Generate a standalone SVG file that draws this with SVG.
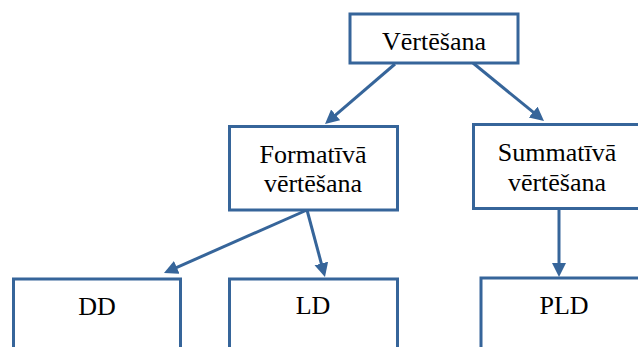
<svg xmlns="http://www.w3.org/2000/svg" width="638" height="347" viewBox="0 0 638 347">
<style>
.box{fill:#fff;stroke:#36659a;stroke-width:3}
.lbl{font-size:26px;fill:#000;text-anchor:middle}
.conn line{stroke:#36659a;stroke-width:3}
</style>
<defs>
<marker id="ah" markerUnits="userSpaceOnUse" markerWidth="15" markerHeight="15" refX="6" refY="7" orient="auto">
<path d="M0,0 L14,7 L0,14 z" fill="#36659a"/>
</marker>
</defs>
<rect width="638" height="347" fill="#fff"/>
<g class="conn">
<line x1="395" y1="64" x2="331.1" y2="118.8" marker-end="url(#ah)"/>
<line x1="473" y1="63" x2="537.8" y2="115.9" marker-end="url(#ah)"/>
<line x1="307" y1="210" x2="171.3" y2="269.8" marker-end="url(#ah)"/>
<line x1="307" y1="210" x2="322.9" y2="269.3" marker-end="url(#ah)"/>
<line x1="559" y1="210" x2="559" y2="269" marker-end="url(#ah)"/>
</g>
<g font-family="'Liberation Serif', 'Times New Roman', 'DejaVu Serif', serif">
<g id="vertesana">
<rect class="box" x="350" y="14" width="168" height="49"/>
<text class="lbl" x="434" y="50">Vērtēšana</text>
</g>
<g id="formativa">
<rect class="box" x="229.5" y="126.5" width="168" height="83.5"/>
<text class="lbl" x="313" y="162.5">Formatīvā</text>
<text class="lbl" x="313" y="191.5">vērtēšana</text>
</g>
<g id="summativa">
<rect class="box" x="473.5" y="124.5" width="168" height="84"/>
<text class="lbl" x="557" y="161">Summatīvā</text>
<text class="lbl" x="557" y="190.5">vērtēšana</text>
</g>
<g id="dd">
<rect class="box" x="13.5" y="279" width="167" height="90"/>
<text class="lbl" x="97" y="315">DD</text>
</g>
<g id="ld">
<rect class="box" x="229.5" y="279" width="168" height="90"/>
<text class="lbl" x="313" y="314">LD</text>
</g>
<g id="pld">
<rect class="box" x="481" y="278" width="168" height="90"/>
<text class="lbl" x="564" y="313.5">PLD</text>
</g>
</g>
</svg>
